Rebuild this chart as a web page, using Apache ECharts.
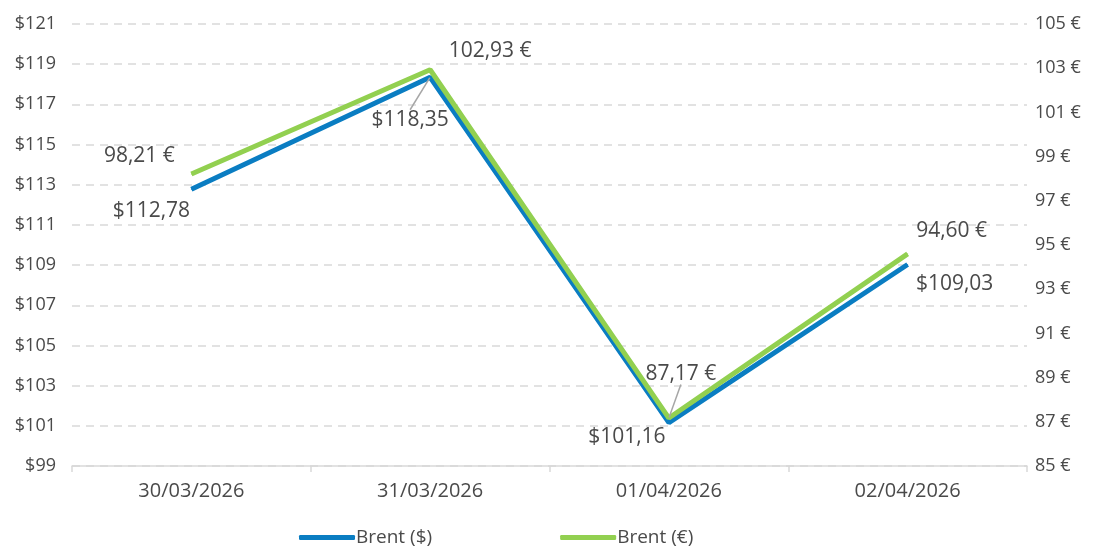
<!DOCTYPE html>
<html><head><meta charset="utf-8">
<script src="https://cdn.jsdelivr.net/npm/echarts@6/dist/echarts.min.js"></script>
<style>html,body{margin:0;padding:0;background:#fff}#c{width:1097px;height:548px}</style>
</head><body><div id="c"></div>
<script>
const categories = ['30/03/2026', '31/03/2026', '01/04/2026', '02/04/2026'];
const brentUsd = [112.78, 118.35, 101.16, 109.03];
const brentEur = [98.21, 102.93, 87.17, 94.60];
const usdAxis = { min: 99, max: 121, interval: 2 };
const eurAxis = { min: 85, max: 105, interval: 2 };

const font = 'Open Sans';
const txt = '#4a4a4a';
const fmtUsd = v => '$' + v.toFixed(2).replace('.', ',');
const fmtEur = v => v.toFixed(2).replace('.', ',') + ' €';

// label offsets [dx, dy] relative to point, and leader-line flag
const usdLbl = [[-40, 22], [-20, 43], [-42, 14], [47, 20]];
const usdLine = [false, true, false, false];
const eurLbl = [[-52, -18], [60, -19], [12, -44], [44, -23]];
const eurLine = [false, false, true, false];

const chart = echarts.init(document.getElementById('c'));
function mk(vals, fmt, lines) {
  return vals.map((v, i) => ({
    value: v,
    label: { formatter: () => fmt(v) },
    labelLine: { show: lines[i], lineStyle: { color: '#A6A6A6', width: 1.5 } }
  }));
}
function layout(offs) {
  return p => ({
    x: p.rect.x + p.rect.width / 2 + offs[p.dataIndex][0],
    y: p.rect.y + p.rect.height / 2 + offs[p.dataIndex][1],
    align: 'center', verticalAlign: 'middle'
  });
}
chart.setOption({
  animation: false,
  textStyle: { fontFamily: font },
  grid: { left: 72, right: 70, top: 24, bottom: 82 },
  legend: {
    left: 294, top: 523, itemWidth: 56, itemHeight: 5, itemGap: 128,
    icon: 'roundRect',
    textStyle: { fontFamily: font, fontSize: 19, color: txt, padding: [0, 0, 0, -4] },
    data: ['Brent ($)', 'Brent (€)']
  },
  xAxis: {
    type: 'category', data: categories, boundaryGap: true,
    axisLine: { lineStyle: { color: '#D9D9D9', width: 1.5 } },
    axisTick: { show: true, length: 6, lineStyle: { color: '#D9D9D9', width: 1.5 } },
    axisLabel: { color: txt, fontSize: 20, margin: 15, fontFamily: font }
  },
  yAxis: [
    {
      type: 'value', min: usdAxis.min, max: usdAxis.max, interval: usdAxis.interval,
      axisLine: { show: false }, axisTick: { show: false },
      axisLabel: { color: txt, fontSize: 18, margin: 16, fontFamily: font, formatter: v => '$' + v },
      splitLine: { lineStyle: { color: '#D9D9D9', type: [8, 6], width: 1.5 } }
    },
    {
      type: 'value', min: eurAxis.min, max: eurAxis.max, interval: eurAxis.interval,
      axisLine: { show: false }, axisTick: { show: false },
      axisLabel: { color: txt, fontSize: 18, margin: 8, fontFamily: font, formatter: v => v + ' €' },
      splitLine: { show: false }
    }
  ],
  series: [
    {
      name: 'Brent ($)', type: 'line', yAxisIndex: 0,
      data: mk(brentUsd, fmtUsd, usdLine),
      symbol: 'circle', symbolSize: 1, showSymbol: true,
      lineStyle: { color: '#0A7DC2', width: 5 }, itemStyle: { color: '#0A7DC2' },
      label: { show: true, position: 'inside', color: txt, fontSize: 21, fontFamily: font },
      labelLayout: layout(usdLbl),
      z: 2
    },
    {
      name: 'Brent (€)', type: 'line', yAxisIndex: 1,
      data: mk(brentEur, fmtEur, eurLine),
      symbol: 'circle', symbolSize: 1, showSymbol: true,
      lineStyle: { color: '#92D050', width: 5 }, itemStyle: { color: '#92D050' },
      label: { show: true, position: 'inside', color: txt, fontSize: 21, fontFamily: font },
      labelLayout: layout(eurLbl),
      z: 3
    }
  ]
});
</script></body></html>
